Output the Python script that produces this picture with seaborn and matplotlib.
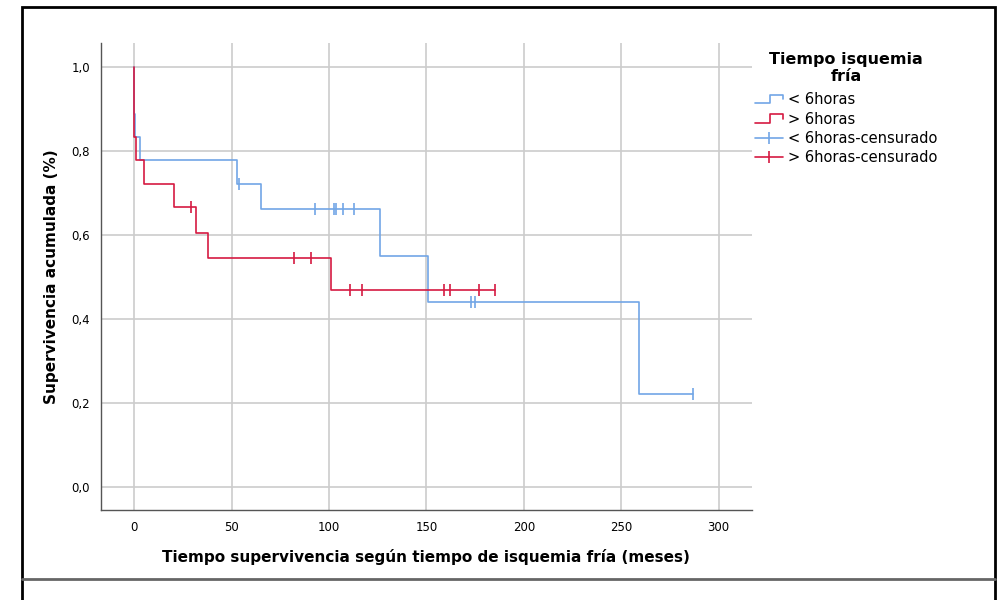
import numpy as np
import pandas as pd
import seaborn as sns
import matplotlib.pyplot as plt
from matplotlib.lines import Line2D
from matplotlib.patches import Rectangle
from matplotlib.legend_handler import HandlerBase

# step curves (time in months, cumulative survival)
t_menos = [0, 0, 0.6, 3, 53, 65, 126, 151, 259, 287]
s_menos = [1.0, 0.889, 0.833, 0.778, 0.722, 0.661, 0.551, 0.441, 0.221, 0.221]
t_mas = [0, 0, 1, 5, 20.5, 32, 38, 101, 185]
s_mas = [1.0, 0.833, 0.778, 0.722, 0.667, 0.606, 0.545, 0.468, 0.468]

# censored cases
tc_menos = [54, 93, 102.5, 103.5, 107, 113, 173, 175, 287]
sc_menos = [0.722, 0.661, 0.661, 0.661, 0.661, 0.661, 0.441, 0.441, 0.221]
tc_mas = [29, 82, 91, 111, 117, 159, 162, 177, 185]
sc_mas = [0.667, 0.545, 0.545, 0.468, 0.468, 0.468, 0.468, 0.468, 0.468]

x_ticks = [0, 50, 100, 150, 200, 250, 300]
y_ticks = [0.0, 0.2, 0.4, 0.6, 0.8, 1.0]
y_labels = ["0,0", "0,2", "0,4", "0,6", "0,8", "1,0"]

BLUE = "#72a6e6"
RED = "#d51a42"

sns.set_style("white")
plt.rcParams['font.family'] = ['DejaVu Sans']
plt.rcParams['text.color'] = 'black'
plt.rcParams['axes.labelcolor'] = 'black'

fig = plt.figure(figsize=(10.05, 6), dpi=100)
ax = fig.add_axes([0.1005, 0.15, 0.6475, 0.778])

dfm = pd.DataFrame({'t': t_menos, 's': s_menos})
dfM = pd.DataFrame({'t': t_mas, 's': s_mas})
sns.lineplot(data=dfm, x='t', y='s', ax=ax, color=BLUE, lw=1.2, sort=False,
             estimator=None, drawstyle='steps-post', zorder=3)
sns.lineplot(data=dfM, x='t', y='s', ax=ax, color=RED, lw=1.2, sort=False,
             estimator=None, drawstyle='steps-post', zorder=3)

sns.scatterplot(x=tc_menos, y=sc_menos, ax=ax, marker='|', s=70, color=BLUE,
                linewidth=1.2, zorder=4)
sns.scatterplot(x=tc_mas, y=sc_mas, ax=ax, marker='|', s=70, color=RED,
                linewidth=1.2, zorder=4)

ax.set_xlim(-17, 317)
ax.set_ylim(-0.055, 1.057)
ax.set_xticks(x_ticks)
ax.set_yticks(y_ticks)
ax.set_yticklabels(y_labels)
ax.tick_params(length=0, labelsize=8.5, pad=8, colors='black')
ax.grid(True, color='#cccccc', lw=1.2, zorder=0)
ax.set_axisbelow(True)
for side in ['top', 'right']:
    ax.spines[side].set_visible(False)
for side in ['left', 'bottom']:
    ax.spines[side].set_color('#555555')
    ax.spines[side].set_linewidth(1.0)

ax.set_xlabel("Tiempo supervivencia según tiempo de isquemia fría (meses)",
              fontsize=11, fontweight='bold', labelpad=11)
ax.set_ylabel("Supervivencia acumulada (%)", fontsize=11, fontweight='bold',
              labelpad=9)


# little step icon for the legend
class StepHandler(HandlerBase):
    def create_artists(self, legend, orig, xd, yd, w, h, fontsize, trans):
        xs = [xd, xd + 0.55 * w, xd + 0.55 * w, xd + w, xd + w]
        ys = [yd + 0.1 * h, yd + 0.1 * h, yd + 0.9 * h, yd + 0.9 * h, yd + 0.5 * h]
        ln = Line2D(xs, ys, color=orig.get_color(), lw=1.2, transform=trans)
        return [ln]


h1 = Line2D([], [], color=BLUE)
h2 = Line2D([], [], color=RED)
h3 = Line2D([0], [0], color=BLUE, lw=1.2, marker='|', markersize=9, mew=1.2)
h4 = Line2D([0], [0], color=RED, lw=1.2, marker='|', markersize=9, mew=1.2)
leg = fig.legend([h1, h2, h3, h4],
                 ["< 6horas", "> 6horas", "< 6horas-censurado", "> 6horas-censurado"],
                 handler_map={h1: StepHandler(), h2: StepHandler()},
                 title="Tiempo isquemia\nfría", loc='upper left',
                 bbox_to_anchor=(0.738, 0.935), frameon=False, fontsize=10.5,
                 handlelength=1.9, handletextpad=0.4, labelspacing=0.3)
leg.get_title().set_fontweight('bold')
leg.get_title().set_fontsize(11.5)
leg.get_title().set_linespacing(1.15)
leg.get_title().set_multialignment('center')
leg._legend_box.align = 'center'
leg._legend_box.sep = 6

# outer frame and separator like the source export
fig.add_artist(Rectangle((0.0219, -0.01), 0.968, 0.998, transform=fig.transFigure,
                         fill=False, edgecolor='black', lw=2))
fig.add_artist(Line2D([0.0219, 0.99], [0.035, 0.035], transform=fig.transFigure,
                      color='#666666', lw=2))

plt.savefig("out.png", dpi=100)
plt.close()
